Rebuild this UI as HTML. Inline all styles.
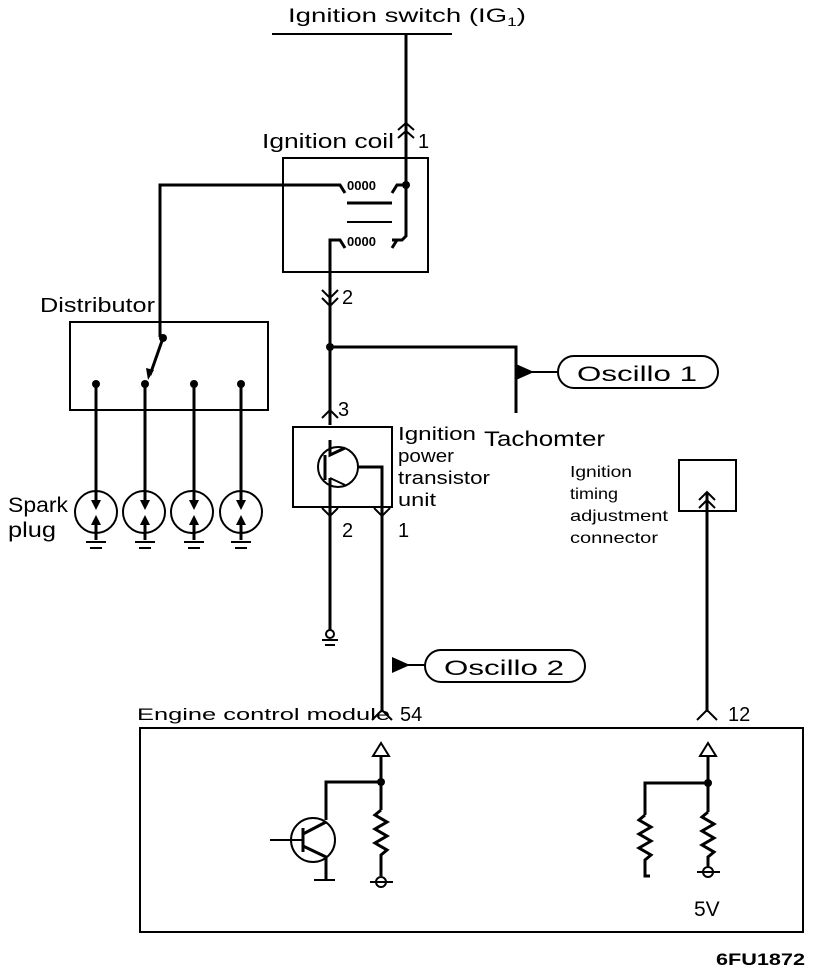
<!DOCTYPE html>
<html><head><style>body{margin:0;background:#fff}svg{display:block}text{font-family:"Liberation Sans",sans-serif;fill:#000}</style></head><body>
<svg width="832" height="972" viewBox="0 0 832 972" xmlns="http://www.w3.org/2000/svg">
<g stroke="#000" stroke-width="3" fill="none">
<line x1="272" y1="34" x2="452" y2="34" stroke-width="2"/>
<polyline points="406,34 406,236 402,240 392,240"/>
<polyline points="160,337 160,185 340,185 345,193"/>
<path d="M392,193 L397,185 L406,185" />
<path d="M345,248 L340,240 L330,240 L330,425"/>
<path d="M392,248 L397,240" stroke-width="3"/>
<line x1="347" y1="203" x2="392" y2="203"/>
<line x1="347" y1="222" x2="392" y2="222" stroke-width="2"/>
<rect x="283" y="158" width="145" height="114" stroke-width="2"/>
<polyline points="398,130 406,123 414,130" stroke-width="2"/><polyline points="398,138 406,131 414,138" stroke-width="2"/>
<polyline points="322,290 330,298 338,290" stroke-width="2"/><polyline points="322,298 330,306 338,298" stroke-width="2"/>
<polyline points="330,347 516,347 516,413"/>
<rect x="293" y="427" width="99" height="80" stroke-width="2"/>
<polyline points="322,418 330,410 338,418" stroke-width="2"/>
<circle cx="338" cy="467" r="20" stroke-width="2"/>
<line x1="325" y1="455" x2="325" y2="480"/>
<polyline points="330,440 330,455 345,448"/>
<polyline points="330,478 345,485" stroke-width="2"/>
<polyline points="330,478 330,630"/>
<polyline points="358,467 382,467 382,712"/>
<polyline points="322,508 330,516 338,508" stroke-width="2"/>
<polyline points="374,508 382,516 390,508" stroke-width="2"/>
<circle cx="330" cy="634" r="4" stroke-width="2"/>
<line x1="322" y1="640" x2="338" y2="640" stroke-width="2"/>
<line x1="325" y1="645" x2="335" y2="645" stroke-width="2"/>
<polyline points="372,720 382,710 392,720" stroke-width="2"/>
<rect x="679" y="460" width="57" height="51" stroke-width="2"/>
<line x1="707" y1="493" x2="707" y2="712"/>
<polyline points="699,500 707,492 715,500" stroke-width="2"/><polyline points="699,508 707,500 715,508" stroke-width="2"/>
<polyline points="697,720 707,710 717,720" stroke-width="2"/>
<rect x="140" y="728" width="663" height="204" stroke-width="2"/>
<polygon points="381,743 373,756 389,756" stroke-width="2"/>
<polyline points="381,756 381,810"/>
<polyline points="381,782 326,782 326,820"/>
<circle cx="313" cy="840" r="22" stroke-width="2"/>
<line x1="303" y1="828" x2="303" y2="852"/>
<line x1="270" y1="840" x2="303" y2="840" stroke-width="2"/>
<polyline points="303,834 326,822"/><polyline points="303,846 326,857 326,880"/>
<line x1="314" y1="880" x2="335" y2="880" stroke-width="2"/>
<polyline points="381,810 375,815 387,822 375,829 387,836 375,843 387,850 381,855 381,876"/>
<circle cx="381" cy="882" r="5" stroke-width="2"/><line x1="370" y1="882" x2="393" y2="882" stroke-width="2"/>
<polygon points="708,743 700,756 716,756" stroke-width="2"/>
<polyline points="708,756 708,812"/>
<polyline points="708,783 645,783 645,815"/>
<polyline points="645,815 639,820 651,827 639,834 651,841 639,848 651,855 645,860 645,876 650,876"/>
<polyline points="708,812 702,817 714,824 702,831 714,838 702,845 714,852 708,857 708,866"/>
<circle cx="708" cy="872" r="5" stroke-width="2"/><line x1="697" y1="872" x2="720" y2="872" stroke-width="2"/>
<rect x="70" y="322" width="198" height="88" stroke-width="2"/>
<line x1="163" y1="338" x2="150" y2="375"/>
<path d="M96 384V505M145 384V505M194 384V505M241 384V505"/>
<circle cx="96" cy="512" r="21" stroke-width="2"/><circle cx="144" cy="512" r="21" stroke-width="2"/><circle cx="192" cy="512" r="21" stroke-width="2"/><circle cx="241" cy="512" r="21" stroke-width="2"/>
<path d="M96 520V540M145 520V540M194 520V540M241 520V540"/>
<path d="M86 542H106M135 542H155M184 542H204M231 542H251M90 548H102M139 548H151M188 548H200M235 548H247" stroke-width="2"/>
<line x1="520" y1="372" x2="558" y2="372" stroke-width="2"/>
<rect x="558" y="356" width="160" height="32" rx="16" stroke-width="2"/>
<line x1="395" y1="665" x2="425" y2="665" stroke-width="2"/>
<rect x="425" y="650" width="160" height="32" rx="16" stroke-width="2"/>
</g>
<g fill="#000">
<circle cx="406" cy="185" r="4"/><circle cx="330" cy="347" r="4"/><circle cx="163" cy="338" r="4"/>
<circle cx="96" cy="384" r="4"/><circle cx="145" cy="384" r="4"/><circle cx="194" cy="384" r="4"/><circle cx="241" cy="384" r="4"/>
<circle cx="381" cy="782" r="4"/><circle cx="708" cy="783" r="4"/>
<polygon points="516,364 534,372 516,380"/><polygon points="392,657 410,665 392,673"/>
<polygon points="146,368 154,370 148,380"/>
<path d="M91 500l5 10 5-10zM91 525l5-10 5 10zM140 500l5 10 5-10zM140 525l5-10 5 10zM189 500l5 10 5-10zM189 525l5-10 5 10zM236 500l5 10 5-10zM236 525l5-10 5 10z"/>
</g>
<g font-size="17">
<text x="288" y="22" font-size="19" textLength="238" lengthAdjust="spacingAndGlyphs">Ignition switch (IG<tspan font-size="12" dy="4">1</tspan><tspan dy="-4">)</tspan></text>
<text x="262" y="148" font-size="20" textLength="132" lengthAdjust="spacingAndGlyphs">Ignition  coil</text><text x="418" y="148" font-size="20">1</text>
<text x="342" y="304" font-size="20">2</text>
<text x="40" y="312" font-size="20" textLength="115" lengthAdjust="spacingAndGlyphs">Distributor</text>
<text x="8" y="512" font-size="21" textLength="60" lengthAdjust="spacingAndGlyphs">Spark</text><text x="8" y="537" font-size="21" textLength="48" lengthAdjust="spacingAndGlyphs">plug</text>
<text x="338" y="416" font-size="20">3</text>
<g font-size="18"><text x="398" y="440" textLength="78" lengthAdjust="spacingAndGlyphs">Ignition</text><text x="398" y="462" textLength="56" lengthAdjust="spacingAndGlyphs">power</text><text x="398" y="484" textLength="92" lengthAdjust="spacingAndGlyphs">transistor</text><text x="398" y="506" textLength="38" lengthAdjust="spacingAndGlyphs">unit</text></g>
<text x="484" y="446" font-size="21" textLength="121" lengthAdjust="spacingAndGlyphs">Tachomter</text>
<text x="342" y="537" font-size="20">2</text><text x="398" y="537" font-size="20">1</text>
<text x="577" y="381" font-size="21" textLength="120" lengthAdjust="spacingAndGlyphs">Oscillo 1</text>
<text x="444" y="675" font-size="21" textLength="120" lengthAdjust="spacingAndGlyphs">Oscillo 2</text>
<g font-size="16"><text x="570" y="477" textLength="62" lengthAdjust="spacingAndGlyphs">Ignition</text><text x="570" y="499" textLength="48" lengthAdjust="spacingAndGlyphs">timing</text><text x="570" y="521" textLength="98" lengthAdjust="spacingAndGlyphs">adjustment</text><text x="570" y="543" textLength="88" lengthAdjust="spacingAndGlyphs">connector</text></g>
<text x="137" y="720" font-size="17" textLength="253" lengthAdjust="spacingAndGlyphs">Engine control module</text>
<text x="400" y="721" font-size="20">54</text><text x="728" y="721" font-size="20">12</text>
<text x="694" y="916" font-size="21">5V</text>
<text x="716" y="965" font-size="17" font-weight="bold" textLength="89" lengthAdjust="spacingAndGlyphs">6FU1872</text>
</g>
<g font-size="13" font-weight="bold"><text x="347" y="190">0000</text><text x="347" y="246">0000</text></g>
</svg>
</body></html>
